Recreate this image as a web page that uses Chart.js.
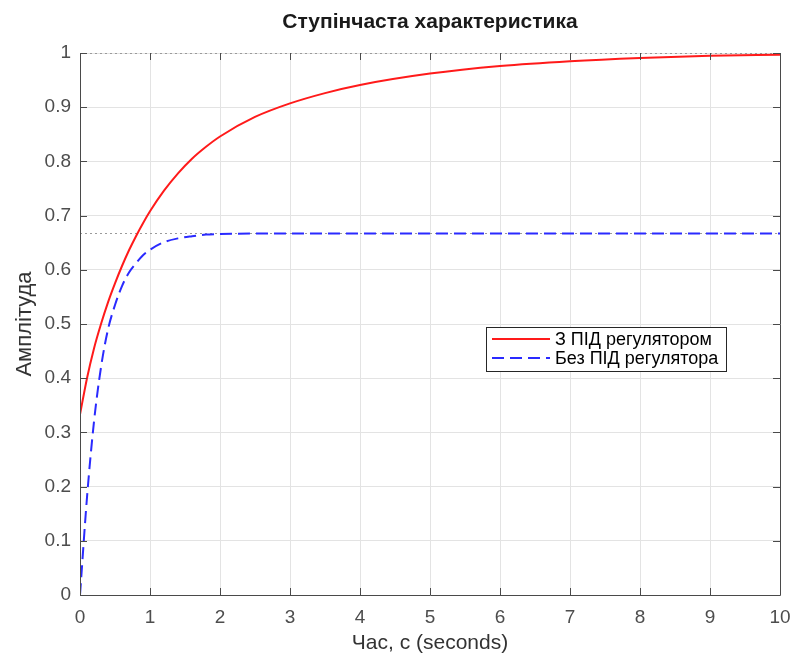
<!DOCTYPE html>
<html lang="uk">
<head>
<meta charset="UTF-8">
<title>Ступінчаста характеристика</title>
<script src="https://cdn.jsdelivr.net/npm/chart.js"></script>
<style>
  html, body { margin: 0; padding: 0; background: #fff; }
  #wrap { width: 794px; height: 658px; }
</style>
</head>
<body>
<div id="wrap"><canvas id="stepChart" width="794" height="658"></canvas></div>
<script>
// time axis (seconds) and the two step responses
const timeSec = [0, 0.1, 0.2, 0.3, 0.4, 0.5, 0.6, 0.7, 0.8, 0.9, 1.0, 1.2, 1.4, 1.6, 1.8, 2.0, 2.5, 3, 3.5, 4, 5, 6, 7, 8, 9, 10];
const withPid = [0.333, 0.400, 0.455, 0.500, 0.540, 0.575, 0.607, 0.636, 0.662, 0.686, 0.708, 0.746, 0.778, 0.805, 0.827, 0.846, 0.882, 0.907, 0.926, 0.941, 0.962, 0.976, 0.985, 0.991, 0.995, 0.997];
const withoutPid = [0, 0.180, 0.320, 0.420, 0.490, 0.535, 0.570, 0.595, 0.612, 0.627, 0.637, 0.651, 0.658, 0.662, 0.665, 0.666, 0.667, 0.667, 0.667, 0.667, 0.667, 0.667, 0.667, 0.667, 0.667, 0.667];
const steadyLevels = [1, 0.667];
const seriesNames = ['З ПІД регулятором', 'Без ПІД регулятора'];

const FONT = '"Liberation Sans", Arial, sans-serif';
const pts = arr => timeSec.map((t, i) => ({ x: t, y: arr[i] }));

// steady state dotted lines, box, inward ticks, title, legend
const decor = {
  id: 'decor',
  beforeDatasetsDraw(chart) {
    const { ctx, chartArea: a, scales: { y } } = chart;
    ctx.save();
    ctx.strokeStyle = '#9a9a9a';
    ctx.lineWidth = 1;
    ctx.setLineDash([2, 3]);
    steadyLevels.forEach(v => {
      const py = Math.round(y.getPixelForValue(v)) + 0.5;
      ctx.beginPath();
      ctx.moveTo(a.left, py);
      ctx.lineTo(a.right, py);
      ctx.stroke();
    });
    ctx.restore();
  },
  afterDraw(chart) {
    const { ctx, chartArea: a, scales: { x, y } } = chart;
    ctx.save();
    // box
    ctx.strokeStyle = '#4a4a4a';
    ctx.lineWidth = 1;
    ctx.beginPath();
    ctx.moveTo(a.left + 0.5, a.top + 0.5);
    ctx.lineTo(a.left + 0.5, a.bottom + 0.5);
    ctx.lineTo(a.right + 0.5, a.bottom + 0.5);
    ctx.lineTo(a.right + 0.5, a.top + 0.5);
    ctx.stroke();
    // inward ticks
    ctx.beginPath();
    x.ticks.forEach(t => {
      const px = Math.round(x.getPixelForValue(t.value)) + 0.5;
      ctx.moveTo(px, a.bottom); ctx.lineTo(px, a.bottom - 7);
      ctx.moveTo(px, a.top); ctx.lineTo(px, a.top + 7);
    });
    y.ticks.forEach(t => {
      const py = Math.round(y.getPixelForValue(t.value)) + 0.5;
      ctx.moveTo(a.left, py); ctx.lineTo(a.left + 7, py);
      ctx.moveTo(a.right, py); ctx.lineTo(a.right - 7, py);
    });
    ctx.stroke();

    // title
    ctx.fillStyle = '#1a1a1a';
    ctx.font = 'bold 21px ' + FONT;
    ctx.textAlign = 'center';
    ctx.textBaseline = 'middle';
    ctx.fillText('Ступінчаста характеристика', (a.left + a.right) / 2, 22);

    // legend
    const lx = 486, ly = 327, lw = 240, lh = 44;
    ctx.fillStyle = '#fff';
    ctx.fillRect(lx, ly, lw, lh);
    ctx.strokeStyle = '#262626';
    ctx.strokeRect(lx + 0.5, ly + 0.5, lw, lh);
    ctx.font = '18px ' + FONT;
    ctx.textAlign = 'left';
    chart.data.datasets.forEach((ds, i) => {
      const cy = ly + 12 + i * 19;
      ctx.strokeStyle = ds.borderColor;
      ctx.lineWidth = ds.borderWidth;
      ctx.setLineDash(ds.borderDash || []);
      ctx.beginPath();
      ctx.moveTo(lx + 6, cy);
      ctx.lineTo(lx + 64, cy);
      ctx.stroke();
      ctx.setLineDash([]);
      ctx.fillStyle = '#000';
      ctx.fillText(ds.label, lx + 69, cy + 1);
    });
    ctx.restore();
  }
};

new Chart(document.getElementById('stepChart'), {
  type: 'line',
  data: {
    datasets: [
      {
        label: seriesNames[0],
        data: pts(withPid),
        borderColor: '#ff1a1a',
        borderWidth: 2,
        pointRadius: 0,
        cubicInterpolationMode: 'monotone',
        fill: false
      },
      {
        label: seriesNames[1],
        data: pts(withoutPid),
        borderColor: '#2a2aff',
        borderWidth: 2,
        borderDash: [12, 6],
        pointRadius: 0,
        cubicInterpolationMode: 'monotone',
        fill: false
      }
    ]
  },
  options: {
    responsive: false,
    animation: false,
    layout: { padding: { top: 53, right: 14, left: 0, bottom: 0 } },
    plugins: { legend: { display: false }, tooltip: { enabled: false }, title: { display: false } },
    scales: {
      x: {
        type: 'linear',
        min: 0,
        max: 10,
        afterFit(scale) { scale.height = 63; scale.paddingRight = 0; scale.paddingLeft = 0; },
        grid: { color: '#e3e3e3', drawTicks: false },
        border: { display: false },
        ticks: { stepSize: 1, padding: 11, color: '#4d4d4d', font: { family: FONT, size: 19 } },
        title: { display: true, text: 'Час, с (seconds)', color: '#333', font: { family: FONT, size: 21 }, padding: { top: 0, bottom: 2 } }
      },
      y: {
        min: 0,
        max: 1,
        afterFit(scale) { scale.width = 80; scale.paddingTop = 0; scale.paddingBottom = 0; },
        grid: { color: '#e3e3e3', drawTicks: false },
        border: { display: false },
        ticks: { stepSize: 0.1, padding: 9, color: '#4d4d4d', font: { family: FONT, size: 19 },
                 callback: v => Math.round(v * 10) / 10 },
        title: { display: true, text: 'Амплітуда', color: '#333', font: { family: FONT, size: 22 }, padding: { top: 12, bottom: 0 } }
      }
    }
  },
  plugins: [decor]
});
</script>
</body>
</html>
